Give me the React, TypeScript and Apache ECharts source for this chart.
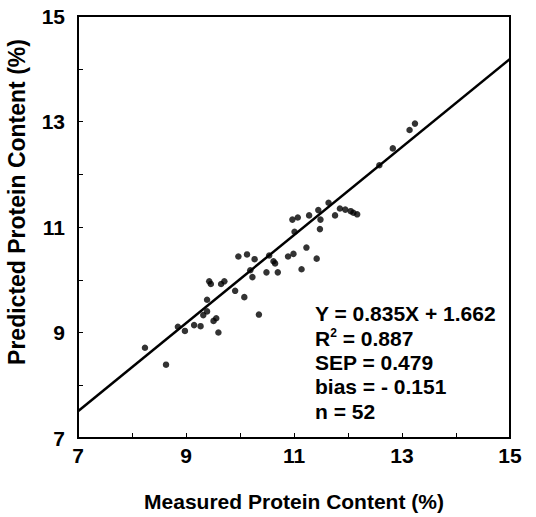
import React, { useEffect, useRef } from "react";
import * as echarts from "echarts";

const measured: number[] = [
  8.24, 8.63, 8.85, 8.98, 9.15, 9.27, 9.32, 9.39, 9.39, 9.43,
  9.46, 9.51, 9.56, 9.6, 9.65, 9.71, 9.91, 9.97, 10.08, 10.13,
  10.19, 10.23, 10.27, 10.35, 10.49, 10.54, 10.62, 10.65, 10.7, 10.89,
  10.99, 10.97, 11.07, 11.01, 11.14, 11.23, 11.28, 11.42, 11.45, 11.48,
  11.49, 11.64, 11.76, 11.85, 11.95, 12.05, 12.1, 12.17, 12.58, 12.83,
  13.14, 13.24,
];
const predicted: number[] = [
  8.71, 8.39, 9.11, 9.03, 9.14, 9.12, 9.33, 9.4, 9.62, 9.97,
  9.92, 9.22, 9.27, 9.0, 9.92, 9.97, 9.79, 10.44, 9.67, 10.48,
  10.18, 10.05, 10.39, 9.34, 10.14, 10.46, 10.35, 10.31, 10.14, 10.44,
  10.49, 11.14, 11.18, 10.91, 10.2, 10.61, 11.22, 10.4, 11.32, 10.96,
  11.14, 11.46, 11.22, 11.35, 11.33, 11.3, 11.27, 11.24, 12.17, 12.49,
  12.84, 12.96,
];
const slope = 0.835;
const intercept = 1.662;
const fitX: number[] = [7, 15];
const statLines: string[] = [
  "Y = 0.835X + 1.662",
  "{b|R}{s|2}{b| = 0.887}",
  "SEP = 0.479",
  "bias = - 0.151",
  "n = 52",
];
const xTitle = "Measured Protein Content (%)";
const yTitle = "Predicted Protein Content (%)";

const FONT = "'Liberation Sans', Arial, Helvetica, sans-serif";

export default function App() {
  const ref = useRef<HTMLDivElement>(null);
  useEffect(() => {
    if (!ref.current) return;
    const chart = echarts.init(ref.current, undefined, { renderer: "svg" });
    const points = measured.map((x, i) => [x, predicted[i]]);
    const fit = fitX.map((x) => [x, slope * x + intercept]);
    const labelStyle = {
      color: "#000",
      fontFamily: FONT,
      fontWeight: "bold" as const,
      fontSize: 21,
    };
    const oddFmt = (v: number) => (Math.round(v) % 2 === 1 ? String(v) : "");
    const statGraphics = statLines.map((t, i) => ({
      type: "text",
      left: 315,
      top: 303 + i * 24.4,
      style: {
        text: t,
        fill: "#000",
        font: `bold 21px ${FONT}`,
        rich: {
          b: { fontSize: 21, fontWeight: "bold", fontFamily: FONT, fill: "#000", lineHeight: 22 },
          s: { fontSize: 12, fontWeight: "bold", fontFamily: FONT, fill: "#000", verticalAlign: "top", lineHeight: 22 },
        },
      },
    }));
    chart.setOption({
      animation: false,
      backgroundColor: "#fff",
      grid: {
        left: 78,
        right: 26,
        top: 16,
        bottom: 76,
        show: true,
        borderColor: "#000",
        borderWidth: 2,
        backgroundColor: "transparent",
      },
      xAxis: {
        type: "value",
        min: 7,
        max: 15,
        interval: 1,
        name: xTitle,
        nameLocation: "middle",
        nameGap: 53,
        nameTextStyle: labelStyle,
        axisLine: { show: true, lineStyle: { color: "#000", width: 2 } },
        axisTick: { show: true, inside: true, length: 5, lineStyle: { color: "#000", width: 1 } },
        axisLabel: { ...labelStyle, margin: 7, formatter: oddFmt },
        splitLine: { show: false },
      },
      yAxis: {
        type: "value",
        min: 7,
        max: 15,
        interval: 1,
        axisLine: { show: true, lineStyle: { color: "#000", width: 2 } },
        axisTick: { show: true, inside: true, length: 5, lineStyle: { color: "#000", width: 1 } },
        axisLabel: { ...labelStyle, margin: 13, formatter: oddFmt },
        splitLine: { show: false },
      },
      series: [
        {
          type: "line",
          data: fit,
          symbol: "none",
          lineStyle: { color: "#000", width: 2.5 },
          z: 2,
        },
        {
          type: "scatter",
          data: points,
          symbol: "circle",
          symbolSize: 6.5,
          itemStyle: { color: "#000" },
          z: 3,
        },
      ],
      graphic: [
        ...statGraphics,
        {
          type: "text",
          x: 17,
          y: 202,
          rotation: Math.PI / 2,
          style: {
            text: yTitle,
            fill: "#000",
            font: `bold 23px ${FONT}`,
            align: "center",
            verticalAlign: "middle",
          },
        },
      ],
    });
    return () => chart.dispose();
  }, []);
  return (
    <div
      ref={ref}
      style={{ position: "fixed", left: 0, top: 0, width: 536, height: 517, background: "#fff" }}
    />
  );
}
